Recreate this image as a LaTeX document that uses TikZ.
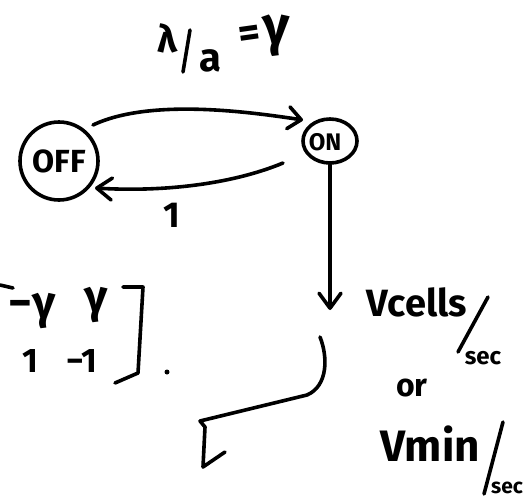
\documentclass[tikz,border=0pt]{standalone}
\usepackage{fontspec}
\setmainfont{Fira Sans}
\usetikzlibrary{arrows.meta,calc,shapes.geometric}
\begin{document}
\begin{tikzpicture}[x=1pt,y=-1pt,
  ink/.style={line width=3.6pt,line cap=round,line join=round},
  state/.style={draw,line width=3.6pt,inner sep=0pt},
  hw/.style={font=\fontsize{#1}{#1}\selectfont\bfseries,inner sep=0pt,anchor=center},
  barb/.style={-{Straight Barb[length=#1,width=22pt,line width=3.6pt,round]}},
  barb/.default=13pt]
\useasboundingbox[fill=white] (0,0) rectangle (528,501);

% states
\node[state,circle,minimum size=78pt,hw=32] (off) at (59,161) {OFF};
\node[state,ellipse,minimum width=54pt,minimum height=44pt] (on) at (330,141) {};
\node[hw=24] (ontext) at (325,142) {ON};

% transition labels
\node[hw=38] (lam) at (168,38) {λ};
\coordinate (s1) at (190,30);
\coordinate (s2) at (183,72);
\draw[ink] (s1) -- (s2);
\node[hw=40] (la) at (210,61) {a};
\node[hw=42,rotate=8] (leq) at (250,37) {=};
\node[hw=54] (lgam) at (276,36) {γ};
\node[hw=36] (one) at (172,215) {1};

% transitions
\draw[ink,barb] ($(off.center)+(34,-36)$) .. controls (150,98) and (250,112) .. ($(on.center)+(-27,-21)$);
\draw[ink,barb=15pt] ($(on.center)+(-47,22)$) .. controls (230,185) and (160,192) .. ($(off.center)+(36,27)$);

% output arrow
\coordinate (v1) at (330,310);
\draw[ink,barb=15pt] (on.south) -- (v1);

\node[hw=38] (vcells) at (417,302) {Vcells};
\coordinate (sl1a) at (488,297);
\coordinate (sl1b) at (458,352);
\draw[ink] (sl1a) -- (sl1b);
\node[hw=24] (sec1) at (483,358) {sec};
\node[hw=32] (or) at (412,388) {or};
\node[hw=44] (vmin) at (430,444) {Vmin};
\coordinate (sl2a) at (503,422);
\coordinate (sl2b) at (484,494);
\draw[ink] (sl2a) -- (sl2b);
\node[hw=21] (sec2) at (507,488) {sec};

% second connector
\coordinate (p0) at (320,337);
\coordinate (p1) at (307,395);
\coordinate (p2) at (200,421);
\coordinate (p3) at (205,427);
\coordinate (p4) at (203,467);
\draw[ink] (p0) .. controls (328,357) and (328,386) .. (p1) -- (p2) -- (p3) -- (p4) -- ++(22,-15);

% matrix
\draw[ink] (0,285) -- (13,288);
\node[hw=46] (m11) at (32,311) {−γ};
\node[hw=46] (m12) at (96,305) {γ};
\node[hw=34] (m21) at (30,361) {1};
\node[hw=34] (m22) at (82,361) {−1};
\draw[ink] (123,287) -- (143,287) -- (138,373) -- (115,383);
\fill (167,372) circle (2.5pt);
\end{tikzpicture}
\end{document}
